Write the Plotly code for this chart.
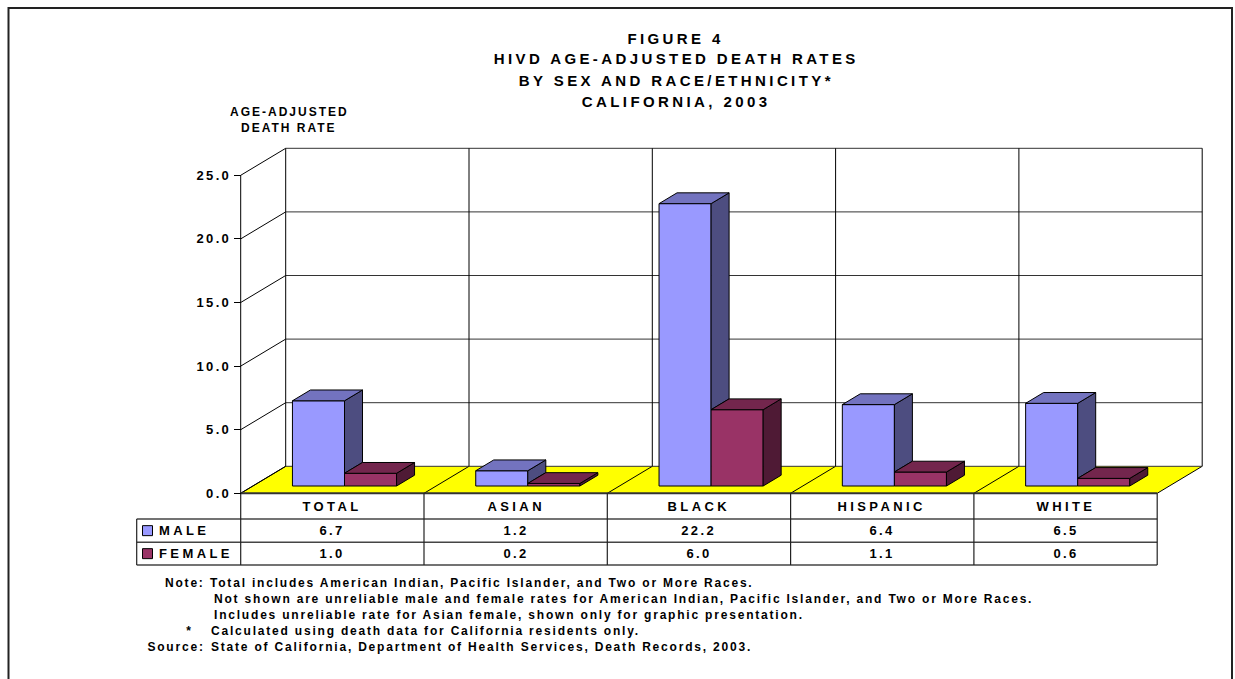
import json
import plotly.graph_objects as go

# ---------------- data ----------------
categories = ["TOTAL", "ASIAN", "BLACK", "HISPANIC", "WHITE"]
series_names = ["MALE", "FEMALE"]
male_rates = [6.7, 1.2, 22.2, 6.4, 6.5]
female_rates = [1.0, 0.2, 6.0, 1.1, 0.6]
y_ticks = [0, 5, 10, 15, 20, 25]
title_lines = ["FIGURE 4", "HIVD AGE-ADJUSTED DEATH RATES",
               "BY SEX AND RACE/ETHNICITY*", "CALIFORNIA, 2003"]
axis_title_lines = ["AGE-ADJUSTED", "DEATH RATE"]
note_labels = ["Note:", "", "", "*", "Source:"]
note_lines = [
    "Total includes American Indian, Pacific Islander, and Two or More Races.",
    "Not shown are unreliable male and female rates for American Indian, Pacific Islander, and Two or More Races.",
    "Includes unreliable rate for Asian female, shown only for graphic presentation.",
    "Calculated using death data for California residents only.",
    "State of California, Department of Health Services, Death Records, 2003.",
]

# ---------------- styles / geometry ----------------
FONT = "Liberation Sans, Arial, sans-serif"
W, H = 1235, 679
X0, SX = 240.7, 183.3      # pixel of x=0, pixels per category
Y0, SY = 493.3, 12.72      # pixel of y=0, pixels per rate unit
DX, DY = 45 / SX, 27 / SY  # depth offset of the back wall
F0, F1 = 0.27, 0.67        # bar depth (fraction of floor depth)
GAP, BW = 0.216, 0.284     # left gap and bar width (category units)
N = len(categories)
YMAX = y_ticks[-1]

COLORS = {
    "MALE": dict(front="#9999FF", top="#7373BF", side="#4D4D80"),
    "FEMALE": dict(front="#993366", top="#73264D", side="#4F1A35"),
}


def px2x(px):
    return (px - X0) / SX


def py2y(py):
    return (Y0 - py) / SY


x_range = [px2x(0), px2x(W)]
y_range = [py2y(H), py2y(0)]

fig = go.Figure()
shapes = []


def line(x0, y0, x1, y1, color="#000000", width=1, layer="below"):
    shapes.append(dict(type="line", xref="x", yref="y", x0=x0, y0=y0, x1=x1, y1=y1,
                       line=dict(color=color, width=width), layer=layer))


# floor
shapes.append(dict(type="path", xref="x", yref="y", layer="below",
                   path=f"M 0,0 L {N},0 L {N + DX},{DY} L {DX},{DY} Z",
                   fillcolor="#FFFF00", line=dict(width=0)))
for i in range(N + 1):
    line(i, 0, i + DX, DY)
# left wall diagonals and back wall gridlines
for v in y_ticks:
    line(0, v, DX, v + DY)
    line(DX, v + DY, N + DX, v + DY, color="#333333")
for i in range(N + 1):
    line(i + DX, DY, i + DX, YMAX + DY)
# front value axis
line(0, 0, 0, YMAX)

# data table grid
row_lines = [py2y(519), py2y(542.3), py2y(565)]
table_left = px2x(136.7)
line(0, 0, N, 0, color="#333333", width=2)
for yl in row_lines:
    line(table_left, yl, N, yl, color="#444444", width=1.5)
for i in range(N + 1):
    line(i, 0, i, row_lines[-1], color="#222222", width=1.2)
line(table_left, row_lines[0], table_left, row_lines[-1], color="#222222", width=1.2)

# outer border
shapes.append(dict(type="rect", xref="paper", yref="paper", layer="above",
                   x0=8.5 / W, x1=1232 / W, y0=-0.2, y1=1 - 8 / H,
                   line=dict(color="#222222", width=2), fillcolor="rgba(0,0,0,0)"))

# ---------------- bars ----------------
series_vals = {"MALE": male_rates, "FEMALE": female_rates}
base = F0 * DY
ddx, ddy = (F1 - F0) * DX, (F1 - F0) * DY

for k, name in enumerate(series_names):
    vals = series_vals[name]
    xc = [i + GAP + BW * (k + 0.5) + F0 * DX for i in range(N)]
    fig.add_trace(go.Bar(x=xc, y=vals, base=base, width=BW, name=name,
                         marker=dict(color=COLORS[name]["front"],
                                     line=dict(color="#000000", width=1)),
                         hoverinfo="skip"))

for k, name in enumerate(series_names):
    vals = series_vals[name]
    other = series_vals[series_names[k + 1]] if k + 1 < len(series_names) else None
    side_x, side_y, top_x, top_y = [], [], [], []
    for i in range(N):
        xl = i + GAP + BW * k + F0 * DX
        xr = xl + BW
        v = vals[i]
        low = 0 if other is None else min(other[i], v)
        side_x += [xr, xr, xr + ddx, xr + ddx, xr, None]
        side_y += [base + low, base + v, base + v + ddy, base + low + ddy, base + low, None]
        top_x += [xl, xr, xr + ddx, xl + ddx, xl, None]
        top_y += [base + v, base + v, base + v + ddy, base + v + ddy, base + v, None]
    fig.add_trace(go.Scatter(x=side_x, y=side_y, mode="lines", fill="toself",
                             fillcolor=COLORS[name]["side"],
                             line=dict(color="#000000", width=1), hoverinfo="skip"))
    fig.add_trace(go.Scatter(x=top_x, y=top_y, mode="lines", fill="toself",
                             fillcolor=COLORS[name]["top"],
                             line=dict(color="#000000", width=1), hoverinfo="skip"))

# legend keys in the data table
row_centers = [(row_lines[0] + row_lines[1]) / 2, (row_lines[1] + row_lines[2]) / 2]
for k, name in enumerate(series_names):
    fig.add_trace(go.Scatter(x=[px2x(147.5)], y=[row_centers[k]], mode="markers",
                             marker=dict(symbol="square", size=10, color=COLORS[name]["front"],
                                         line=dict(color="#000000", width=1)),
                             hoverinfo="skip"))

# ---------------- texts ----------------
annotations = []
spacing = []


def ann(text, x, y, size, ls, xanchor="center", xref="x", yref="y"):
    annotations.append(dict(text=text, x=x, y=y, xref=xref, yref=yref, xanchor=xanchor,
                            yanchor="middle", align=xanchor, showarrow=False,
                            font=dict(family=FONT, size=size, color="#000000", weight="bold")))
    spacing.append(ls)


title_y = [38, 58.7, 80, 101]
for t, yy in zip(title_lines, title_y):
    ann(t, 676 / W, 1 - yy / H, 15, 3.4, xref="paper", yref="paper")
for t, yy in zip(axis_title_lines, [112, 128]):
    ann(t, 289 / W, 1 - yy / H, 12, 2.0, xref="paper", yref="paper")

header_y = (0 + row_lines[0]) / 2
for i, c in enumerate(categories):
    ann(c, i + 0.5, header_y, 13, 3.4)
for k, name in enumerate(series_names):
    for i, v in enumerate(series_vals[name]):
        ann(f"{v:.1f}", i + 0.5, row_centers[k], 13, 2.4)
    ann(name, px2x(157), row_centers[k], 13, 3.4, xanchor="left")

note_y = [583, 599, 615, 631, 647]
note_x = [208, 211.5, 211.5, 208.5, 208.5]
label_right = [207, None, None, 195, 207]
for lab, txt, yy, xx, xr in zip(note_labels, note_lines, note_y, note_x, label_right):
    if lab:
        ann(lab, xr / W, 1 - yy / H, 12, 1.8, xanchor="right", xref="paper", yref="paper")
    ann(txt, xx / W, 1 - yy / H, 12, 1.8, xanchor="left", xref="paper", yref="paper")

fig.update_layout(
    width=W, height=H, autosize=False,
    margin=dict(l=0, r=0, t=0, b=0, pad=0),
    paper_bgcolor="#FFFFFF", plot_bgcolor="#FFFFFF",
    showlegend=False, barmode="overlay",
    shapes=shapes, annotations=annotations,
    xaxis=dict(range=x_range, visible=False, domain=[0, 1], fixedrange=True),
    yaxis=dict(range=y_range, domain=[0, 1], anchor="free", position=X0 / W, side="left",
               tickvals=y_ticks, tickformat=".1f", ticks="outside", ticklen=7,
               tickcolor="#000000", tickwidth=1, showgrid=False, zeroline=False,
               showline=False, fixedrange=True,
               tickfont=dict(family=FONT, size=13, color="#000000", weight="bold")),
)

post = """
(function(){
  document.body.style.margin = '0';
  document.body.style.overflow = 'hidden';
  var gd = document.getElementById('{plot_id}');
  var L = __LS__;
  gd.querySelectorAll('g.annotation').forEach(function(g){
    var i = parseInt(g.getAttribute('data-index'));
    var t = g.querySelector('text.annotation-text');
    if (t && L[i] !== undefined) { t.style.letterSpacing = L[i] + 'px'; }
  });
  gd.querySelectorAll('g.ytick text').forEach(function(t){ t.style.letterSpacing = '2.3px'; });
})();
""".replace("__LS__", json.dumps(spacing))

fig.write_html("out.html", post_script=post, config={"displayModeBar": False})
